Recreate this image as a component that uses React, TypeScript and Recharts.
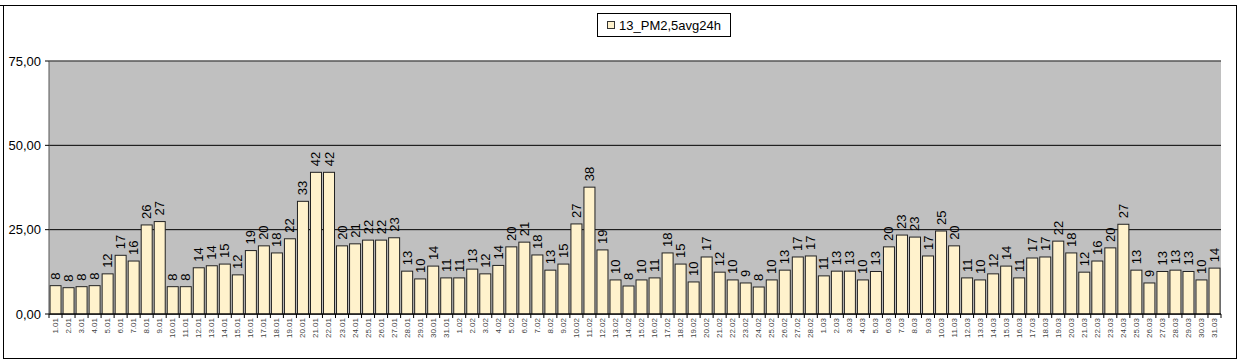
import React from 'react';
import { BarChart, Bar, XAxis, YAxis, CartesianGrid, ReferenceLine } from 'recharts';

// daily dates (day.month), Jan - Mar
const dates = [
  '1.01', '2.01', '3.01', '4.01', '5.01', '6.01', '7.01', '8.01', '9.01', '10.01',
  '11.01', '12.01', '13.01', '14.01', '15.01', '16.01', '17.01', '18.01', '19.01', '20.01',
  '21.01', '22.01', '23.01', '24.01', '25.01', '26.01', '27.01', '28.01', '29.01', '30.01', '31.01',
  '1.02', '2.02', '3.02', '4.02', '5.02', '6.02', '7.02', '8.02', '9.02', '10.02',
  '11.02', '12.02', '13.02', '14.02', '15.02', '16.02', '17.02', '18.02', '19.02', '20.02',
  '21.02', '22.02', '23.02', '24.02', '25.02', '26.02', '27.02', '28.02',
  '1.03', '2.03', '3.03', '4.03', '5.03', '6.03', '7.03', '8.03', '9.03', '10.03',
  '11.03', '12.03', '13.03', '14.03', '15.03', '16.03', '17.03', '18.03', '19.03', '20.03',
  '21.03', '22.03', '23.03', '24.03', '25.03', '26.03', '27.03', '28.03', '29.03', '30.03', '31.03',
];

const pmJan = [
  8.4, 7.8, 8.1, 8.4, 11.9, 17.4, 15.7, 26.4, 27.4, 8.1,
  8.1, 13.7, 14.3, 14.8, 11.6, 18.8, 20.2, 18.1, 22.3, 33.4,
  42.0, 42.0, 20.2, 20.8, 21.9, 21.9, 22.6, 12.7, 10.4, 14.2, 10.7,
];
const pmFeb = [
  10.7, 13.3, 11.9, 14.4, 19.9, 21.3, 17.5, 13.0, 14.8, 26.7,
  37.6, 19.0, 10.1, 8.3, 10.1, 10.7, 18.1, 14.8, 9.5, 16.9,
  12.4, 10.1, 9.2, 8.0, 10.1, 13.0, 16.9, 17.2,
];
const pmMar = [
  11.3, 12.7, 12.7, 10.1, 12.6, 19.9, 23.4, 22.8, 17.2, 24.6,
  20.2, 10.7, 10.1, 11.9, 14.2, 10.7, 16.6, 16.9, 21.6, 18.1,
  12.4, 15.7, 19.6, 26.6, 13.0, 9.2, 12.6, 13.0, 12.6, 10.1, 13.6,
];
const pm25 = [...pmJan, ...pmFeb, ...pmMar];

const yTicks = [0, 25, 50, 75];
const seriesName = '13_PM2,5avg24h';

const data = dates.map((d, i) => ({ date: d, value: pm25[i] }));

const PLOT_LEFT = 49;
const PLOT_RIGHT = 1221;
const band = (PLOT_RIGHT - PLOT_LEFT) / dates.length;
const BAR_FILL = '#FFF2CC';

const fmtY = (v: number) => v.toFixed(2).replace('.', ',');

const DateTick = ({ x, y, payload, index }: any) => (
  <g>
    <line x1={x - band / 2} y1={y} x2={x - band / 2} y2={y + 4} stroke="#000" />
    {index === dates.length - 1 && (
      <line x1={x + band / 2} y1={y} x2={x + band / 2} y2={y + 4} stroke="#000" />
    )}
    <text
      x={x}
      y={y + 4}
      transform={`rotate(-90, ${x}, ${y + 4})`}
      textAnchor="end"
      dominantBaseline="central"
      fontSize={8}
      fill="#444"
    >
      {payload.value}
    </text>
  </g>
);

// bar rectangle plus its rotated value label
const BarWithLabel = (props: any) => {
  const { x, y, width, height, value } = props;
  const v = Array.isArray(value) ? value[1] : value;
  const cx = x + width / 2;
  const ty = y - 6;
  return (
    <g>
      <rect x={x} y={y} width={width} height={height} fill={BAR_FILL} stroke="#222" strokeWidth={1} />
      <text
        x={cx}
        y={ty}
        transform={`rotate(-90, ${cx}, ${ty})`}
        textAnchor="start"
        dominantBaseline="central"
        fontSize={13}
        fill="#000"
      >
        {Math.round(Number(v))}
      </text>
    </g>
  );
};

export default function App() {
  return (
    <div
      style={{
        position: 'absolute',
        left: 0,
        top: 0,
        width: 1240,
        height: 364,
        background: '#fff',
        fontFamily: '"Liberation Sans", Arial, sans-serif',
      }}
    >
      <div style={{ position: 'absolute', left: 0, top: 5, width: 1237, height: 1, background: '#000' }} />
      <div
        style={{
          position: 'absolute',
          left: 3,
          top: 5,
          width: 1232,
          height: 353,
          borderLeft: '1px solid #000',
          borderRight: '1px solid #000',
          borderBottom: '1px solid #000',
        }}
      />
      <div
        style={{
          position: 'absolute',
          left: 597,
          top: 13,
          width: 132,
          height: 22,
          border: '1px solid #000',
          background: '#fff',
          display: 'flex',
          alignItems: 'center',
          justifyContent: 'center',
          fontSize: 13,
          color: '#000',
        }}
      >
        <span
          style={{
            display: 'inline-block',
            width: 6,
            height: 6,
            background: BAR_FILL,
            border: '1px solid #333',
            marginRight: 4,
          }}
        />
        {seriesName}
      </div>
      <div style={{ position: 'absolute', left: 0, top: 0 }}>
        <BarChart
          width={1240}
          height={364}
          data={data}
          margin={{ top: 61, right: 1240 - PLOT_RIGHT, bottom: 0, left: 0 }}
          barCategoryGap="8%"
        >
          <CartesianGrid fill="#C0C0C0" stroke="#000" vertical={false} />
          <ReferenceLine y={75} stroke="#808080" />
          <XAxis
            dataKey="date"
            interval={0}
            height={50}
            tickLine={false}
            tickSize={0}
            tickMargin={0}
            axisLine={{ stroke: '#000' }}
            tick={<DateTick />}
          />
          <YAxis
            domain={[0, 75]}
            ticks={yTicks}
            width={PLOT_LEFT}
            tickFormatter={fmtY}
            tickSize={4}
            tickLine={{ stroke: '#000' }}
            axisLine={{ stroke: '#555' }}
            tick={{ fontSize: 13, fill: '#000' }}
            tickMargin={4}
          />
          <YAxis
            yAxisId="right"
            orientation="right"
            width={0}
            tick={false}
            tickLine={false}
            axisLine={{ stroke: '#808080' }}
          />
          <Bar
            dataKey="value"
            name={seriesName}
            fill={BAR_FILL}
            stroke="#222"
            shape={<BarWithLabel />}
            isAnimationActive={false}
          />
        </BarChart>
      </div>
    </div>
  );
}
